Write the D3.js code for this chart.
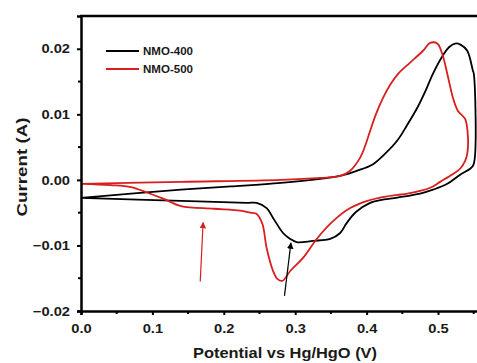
<!DOCTYPE html>
<html lang="en">
<head>
<meta charset="UTF-8">
<title>CV curves NMO-400 / NMO-500</title>
<script src="https://d3js.org/d3.v7.min.js"></script>
<style>
  body { margin: 0; background: #fff; }
  svg { display: block; font-family: "Liberation Sans", Arial, sans-serif; }
  .tick text { font-size: 13px; font-weight: bold; fill: #1a1a1a; }
  .axis-title { font-weight: bold; fill: #1a1a1a; }
  .legend text { font-size: 10px; font-weight: bold; fill: #1a1a1a; }
</style>
</head>
<body>
<svg id="chart" width="477" height="363"></svg>
<script>
// NMO-400 (potential V, current A), one full cycle
const nmo400V = [0, 0.07, 0.14, 0.21, 0.28, 0.335, 0.363, 0.387, 0.409, 0.426, 0.443, 0.457, 0.471, 0.483, 0.493, 0.507, 0.515, 0.524, 0.532, 0.541, 0.549, 0.55,
  0.55, 0.545, 0.531, 0.513, 0.493, 0.475, 0.443, 0.419, 0.405, 0.385, 0.372, 0.363, 0.349, 0.325, 0.302, 0.293, 0.283, 0.269, 0.26, 0.246, 0.232, 0.14, 0];
const nmo400I = [-0.00275, -0.0021, -0.0015, -0.001, -0.00046, 0.00015, 0.0006, 0.0014, 0.0024, 0.004, 0.006, 0.0084, 0.011, 0.0137, 0.0162, 0.019, 0.0202, 0.0208, 0.0206, 0.0197, 0.0166, 0.0163,
  0.0024, 0.0017, 0.0008, -0.0006, -0.0015, -0.0021, -0.0027, -0.0031, -0.0035, -0.0049, -0.0066, -0.0081, -0.009, -0.0093, -0.0095, -0.009, -0.0081, -0.0058, -0.0043, -0.0035, -0.0035, -0.0032, -0.00275];

// NMO-500
const nmo500V = [0, 0.14, 0.28, 0.335, 0.363, 0.377, 0.391, 0.398, 0.405, 0.413, 0.423, 0.433, 0.445, 0.461, 0.479, 0.489, 0.499, 0.506, 0.513, 0.521, 0.528, 0.538, 0.542, 0.541,
  0.538, 0.531, 0.521, 0.503, 0.489, 0.457, 0.443, 0.419, 0.401, 0.377, 0.353, 0.331, 0.311, 0.293, 0.282, 0.275, 0.269, 0.26, 0.254, 0.246, 0.237, 0.223, 0.186, 0.14, 0.116, 0.094, 0.07, 0.041, 0];
const nmo500I = [-0.0006, -0.0003, 0.0, 0.0003, 0.0006, 0.0014, 0.0034, 0.0052, 0.0075, 0.01, 0.0125, 0.0145, 0.0163, 0.0179, 0.0197, 0.0209, 0.0208, 0.0192, 0.0162, 0.0125, 0.0105, 0.0093, 0.0064, 0.004,
  0.0029, 0.0017, 0.0009, -0.0003, -0.0012, -0.0021, -0.0023, -0.0027, -0.0032, -0.0043, -0.0063, -0.0089, -0.0119, -0.0139, -0.0154, -0.0151, -0.0139, -0.0104, -0.0067, -0.0052, -0.005, -0.0047, -0.0044, -0.004, -0.0029, -0.002, -0.0011, -0.0008, -0.0006];

const seriesNames = ["NMO-400", "NMO-500"];
const seriesColors = ["#000000", "#d81e1e"];
const xTicks = [0.0, 0.1, 0.2, 0.3, 0.4, 0.5];
const yTicks = [-0.02, -0.01, 0.00, 0.01, 0.02];
const xMinor = [0.05, 0.15, 0.25, 0.35, 0.45, 0.55];
const yMinor = [-0.015, -0.005, 0.005, 0.015];

const svg = d3.select("#chart");
const x = d3.scaleLinear().domain([0, 0.56]).range([81, 81 + 0.56 * 714]);
const y = d3.scaleLinear().domain([-0.02, 0.025]).range([311, 16]);

const series = [
  nmo400V.map((v, i) => [v, nmo400I[i]]),
  nmo500V.map((v, i) => [v, nmo500I[i]])
];

svg.append("clipPath").attr("id", "clip")
  .append("rect").attr("x", 81).attr("y", 16).attr("width", 400).attr("height", 295);

const line = d3.line().x(d => x(d[0])).y(d => y(d[1])).curve(d3.curveCatmullRom.alpha(0.5));

svg.append("g").attr("clip-path", "url(#clip)")
  .selectAll("path").data(series).enter().append("path")
  .attr("d", line)
  .attr("fill", "none")
  .attr("stroke", (d, i) => seriesColors[i])
  .attr("stroke-width", 1.8)
  .attr("stroke-linejoin", "round");

// axes
const xAxis = svg.append("g").attr("transform", "translate(0,311)")
  .call(d3.axisBottom(x).tickValues(xTicks).tickFormat(d3.format(".1f")).tickSize(4).tickPadding(9));
const yAxis = svg.append("g").attr("transform", "translate(81,0)")
  .call(d3.axisLeft(y).tickValues(yTicks).tickFormat(d3.format(".2f")).tickSize(4).tickPadding(7));

// minor ticks
svg.append("g").selectAll("line").data(xMinor).enter().append("line")
  .attr("x1", d => x(d)).attr("x2", d => x(d)).attr("y1", 311).attr("y2", 314)
  .attr("stroke", "#000").attr("stroke-width", 2);
svg.append("g").selectAll("line").data(yMinor).enter().append("line")
  .attr("x1", 78).attr("x2", 81).attr("y1", d => y(d)).attr("y2", d => y(d))
  .attr("stroke", "#000").attr("stroke-width", 2);

[xAxis, yAxis].forEach(a => {
  a.select(".domain").attr("stroke", "#000").attr("stroke-width", 2.5);
  a.selectAll(".tick line").attr("stroke", "#000").attr("stroke-width", 2);
  // the source figure is a bit wider than tall, so text looks stretched sideways
  a.selectAll(".tick text").each(function() {
    const w = this.getComputedTextLength();
    d3.select(this).attr("textLength", w * 1.13).attr("lengthAdjust", "spacingAndGlyphs");
  });
});

// top frame
svg.append("line").attr("x1", 80).attr("x2", 477).attr("y1", 16).attr("y2", 16)
  .attr("stroke", "#000").attr("stroke-width", 2.5);

// axis titles
svg.append("text").attr("class", "axis-title")
  .attr("x", 285).attr("y", 358).attr("text-anchor", "middle")
  .attr("font-size", 14.5)
  .attr("textLength", 184).attr("lengthAdjust", "spacingAndGlyphs")
  .text("Potential vs Hg/HgO (V)");
svg.append("text").attr("class", "axis-title")
  .attr("transform", "translate(27,167) rotate(-90)").attr("text-anchor", "middle")
  .attr("font-size", 15)
  .attr("textLength", 99).attr("lengthAdjust", "spacingAndGlyphs")
  .text("Current (A)");

// legend
const legend = svg.append("g").attr("class", "legend")
  .selectAll("g").data(seriesNames).enter().append("g")
  .attr("transform", (d, i) => `translate(106,${51 + i * 18})`);
legend.append("line").attr("x1", 0).attr("x2", 33).attr("y1", 0).attr("y2", 0)
  .attr("stroke", (d, i) => seriesColors[i]).attr("stroke-width", 2);
legend.append("text").attr("x", 37).attr("y", 4)
  .attr("textLength", 50).attr("lengthAdjust", "spacingAndGlyphs")
  .text(d => d);

// arrows
const defs = svg.append("defs");
seriesColors.forEach((c, i) => {
  defs.append("marker").attr("id", "arrow" + i)
    .attr("viewBox", "0 0 10 10").attr("refX", 9).attr("refY", 5)
    .attr("markerWidth", 5.5).attr("markerHeight", 5.5).attr("orient", "auto")
    .append("path").attr("d", "M0,0 L10,5 L0,10 z").attr("fill", c);
});
const arrows = [
  {from: [0.167, -0.0155], to: [0.171, -0.0065], i: 1},
  {from: [0.285, -0.0177], to: [0.294, -0.0096], i: 0}
];
svg.append("g").selectAll("line").data(arrows).enter().append("line")
  .attr("x1", d => x(d.from[0])).attr("y1", d => y(d.from[1]))
  .attr("x2", d => x(d.to[0])).attr("y2", d => y(d.to[1]))
  .attr("stroke", d => seriesColors[d.i]).attr("stroke-width", 1.2)
  .attr("marker-end", d => `url(#arrow${d.i})`);
</script>
</body>
</html>
